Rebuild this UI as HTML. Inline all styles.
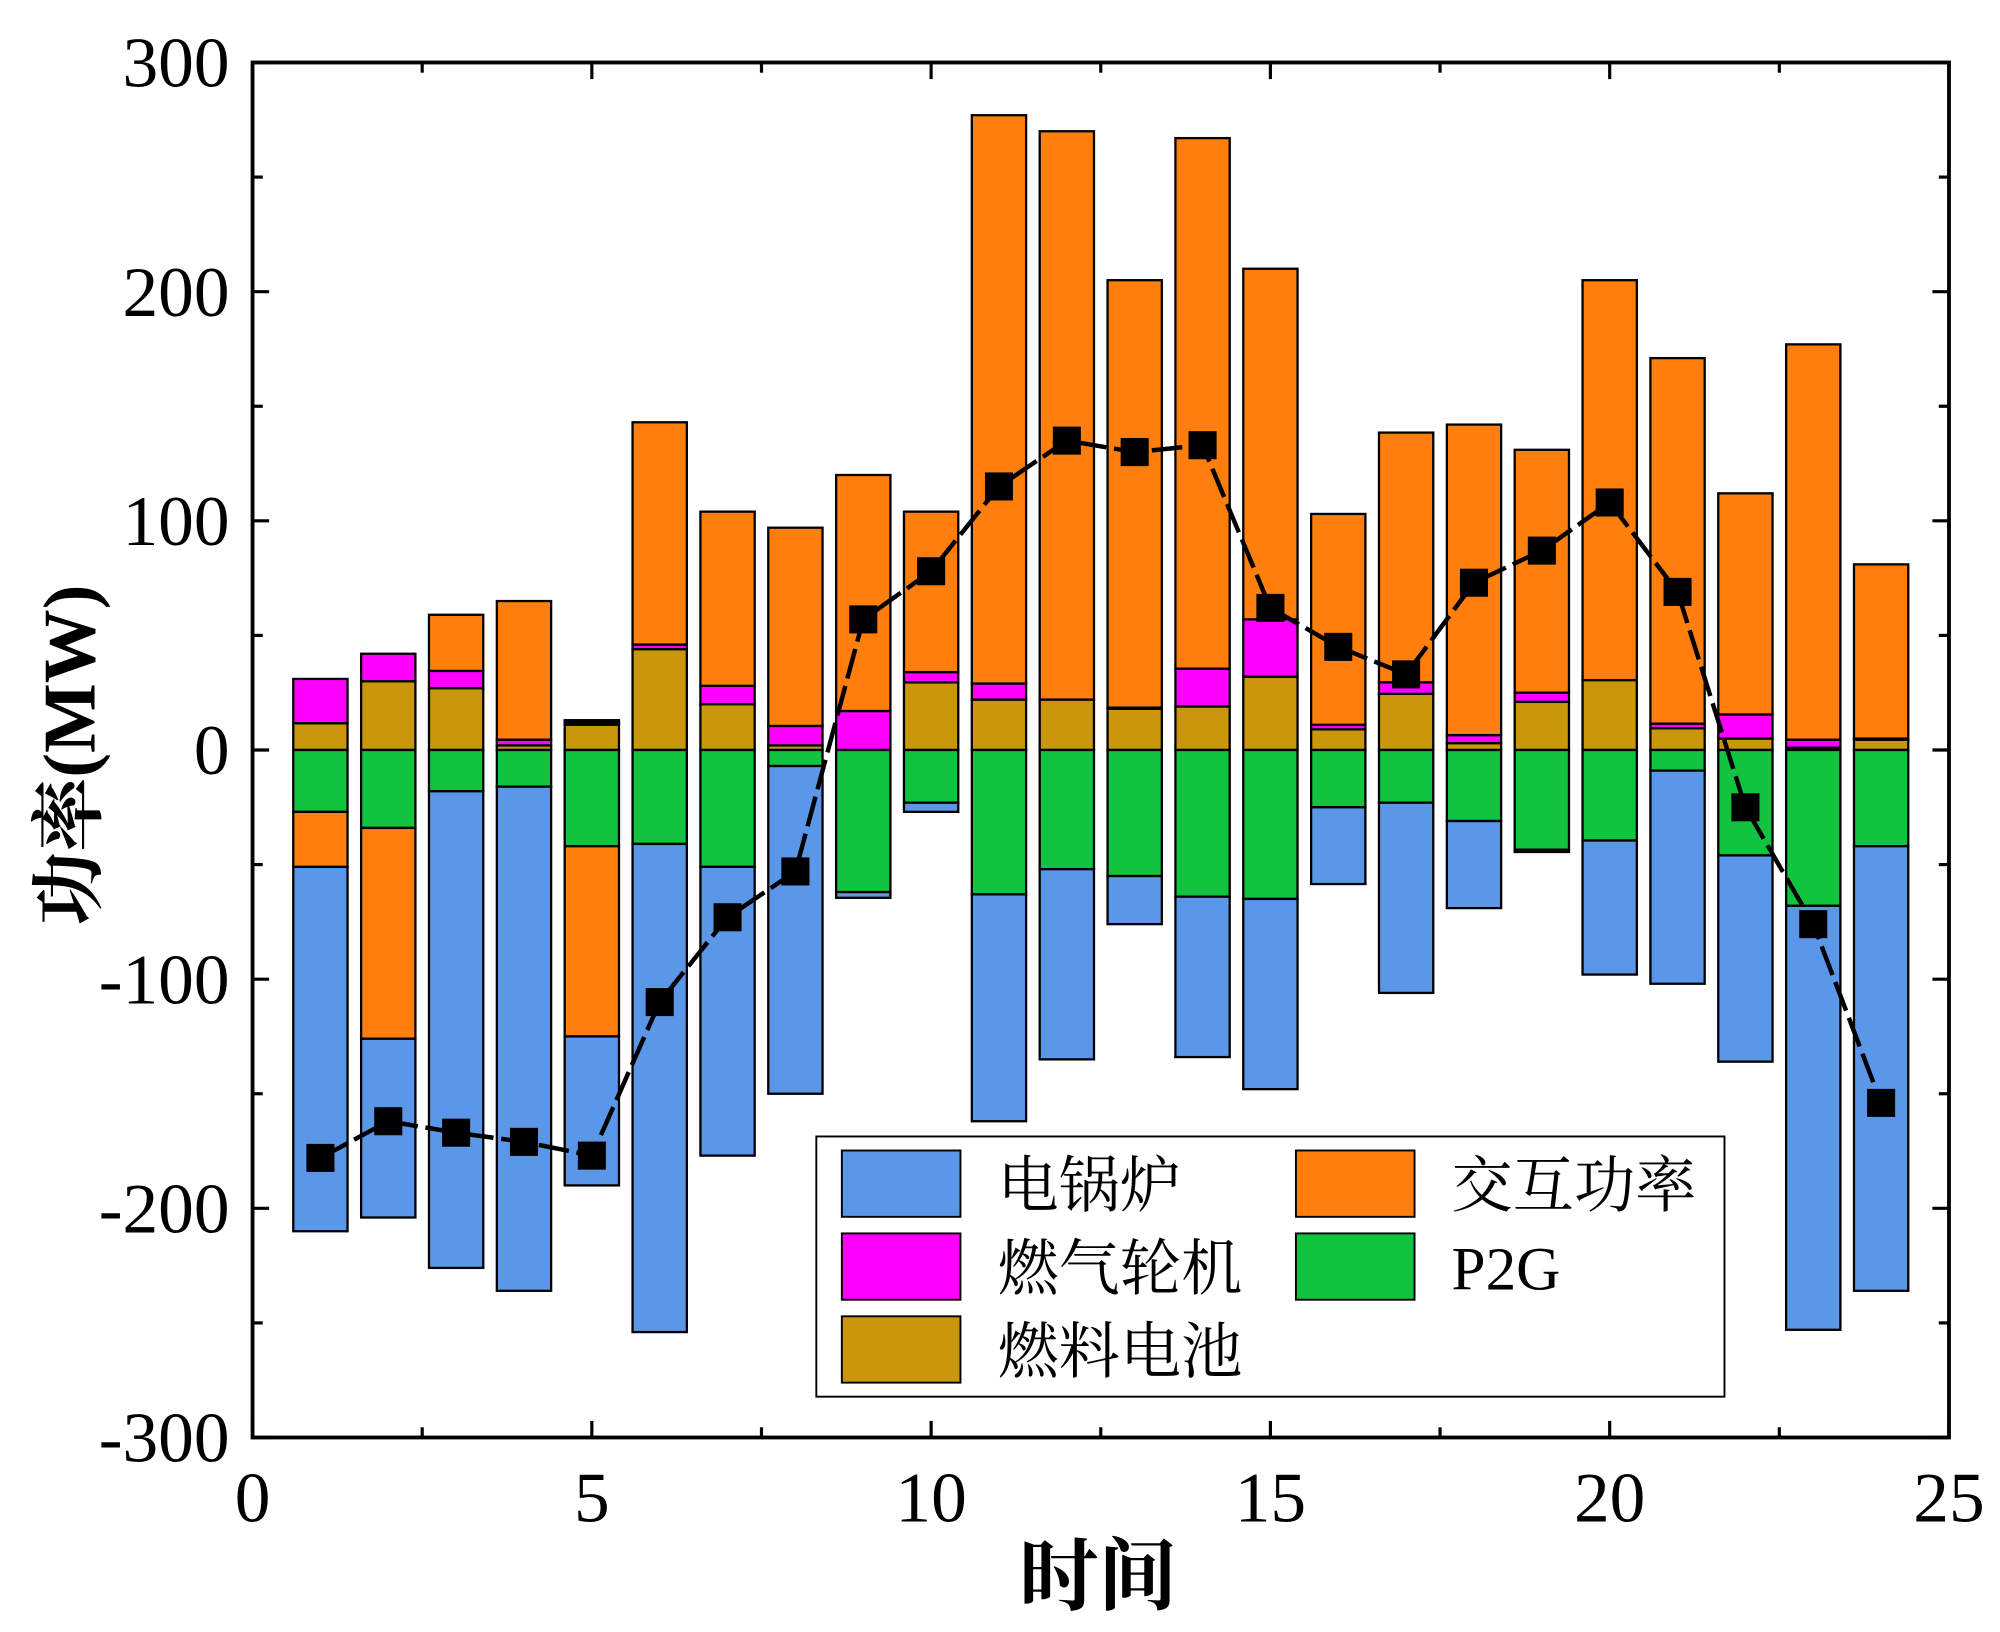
<!DOCTYPE html>
<html><head><meta charset="utf-8"><style>
html,body{margin:0;padding:0;background:#fff;}
svg{display:block;}
text{font-family:"Liberation Serif","Noto Serif CJK SC",serif;fill:#000;}
</style></head><body>
<svg id="chart" width="2000" height="1632" viewBox="0 0 1568 1279.5" preserveAspectRatio="none" xmlns="http://www.w3.org/2000/svg">
<g id="bars"></g>
<g id="line"></g>
<g id="axes"></g>
<g id="legend"></g>
</svg>
<script>
const hours=[1,2,3,4,5,6,7,8,9,10,11,12,13,14,15,16,17,18,19,20,21,22,23,24];
const fuelCell=[11.7,30,27,2,11,44,20,2,0,29.5,22,22,18,19,32,9,24.5,3,21,30.5,9.5,5,1,4.5];
const gasTurbine=[19.3,12,7.5,2.5,1,2,8,8.5,17,4.5,7,0,0.5,16.5,25,2,5,3.5,4,0,2,10.5,3.5,0.5];
const exchangePos=[0,0,24.5,60.5,1,97,76,86.5,103,70,248,248,186.5,231.5,153,92,109,135.5,106,174.5,159.5,96.5,172.5,76];
const p2g=[-27,-34,-18,-16,-42,-41,-51,-7,-62,-23,-63,-52,-55,-64,-65,-25,-23,-31,-43.5,-39.5,-9,-46,-68,-42];
const exchangeNeg=[-24,-92,0,0,-83,0,0,0,0,0,0,0,0,0,0,0,0,0,0,0,0,0,0,0];
const boiler=[-159,-78,-208,-220,-65,-213,-126,-143,-2.5,-4,-99,-83,-21,-70,-83,-33.5,-83,-38,-1,-58.5,-93,-90,-185,-194];
const netPower=[-178,-162,-167,-171,-177,-110,-73,-53,57,78,115,135,130,133,62,45,33,73,87,108,69,-25,-76,-154];
const xTicks=[0,5,10,15,20,25];
const yTicks=[-300,-200,-100,0,100,200,300];
const legendItems=[["电锅炉","#5b97e8"],["交互功率","#ff7f0e"],["燃气轮机","#ff00ff"],["P2G","#12c33f"],["燃料电池","#c9960c"]];

const L=198,R=1528,T=49,B=1127,NS="http://www.w3.org/2000/svg";
const xs=v=>L+(v-0)/25*(R-L);
const ys=v=>B-(v+300)/600*(B-T);
function mk(tag,attrs,parent){const e=document.createElementNS(NS,tag);for(const k in attrs)e.setAttribute(k,attrs[k]);parent.appendChild(e);return e;}
const bars=document.getElementById('bars');
const bw=0.8;
function seg(h,a,b,color,name){
  if(Math.abs(b-a)<0.01)return;
  const r=mk('rect',{x:xs(h-bw/2),y:ys(Math.max(a,b)),width:xs(bw)-xs(0),height:Math.abs(ys(a)-ys(b)),fill:color,stroke:'#000','stroke-width':1.8},bars);
  
  
}
hours.forEach((h,i)=>{
  let p=0;
  seg(h,p,p+fuelCell[i],'#c9960c','fuel-cell-bar');p+=fuelCell[i];
  seg(h,p,p+gasTurbine[i],'#ff00ff','gas-turbine-bar');p+=gasTurbine[i];
  seg(h,p,p+exchangePos[i],'#ff7f0e','exchange-bar');
  let n=0;
  seg(h,n,n+p2g[i],'#12c33f','p2g-bar');n+=p2g[i];
  seg(h,n,n+exchangeNeg[i],'#ff7f0e','exchange-bar');n+=exchangeNeg[i];
  seg(h,n,n+boiler[i],'#5b97e8','boiler-bar');
});
const lg=document.getElementById('line');
const pl=mk('polyline',{points:hours.map((h,i)=>xs(h)+','+ys(netPower[i])).join(' '),fill:'none',stroke:'#000','stroke-width':3.5,'stroke-dasharray':'24 6'},lg);


hours.forEach((h,i)=>{
  const m=mk('rect',{x:xs(h)-11,y:ys(netPower[i])-11,width:22,height:22,fill:'#000'},lg);
  
  
});
const ax=document.getElementById('axes');
const fr=mk('rect',{x:L,y:T,width:R-L,height:B-T,fill:'none',stroke:'#000','stroke-width':3},ax);


for(let v=0;v<=25;v+=2.5){
  const len=(v%5===0)?13:8;
  mk('line',{x1:xs(v),x2:xs(v),y1:B,y2:B-len,stroke:'#000','stroke-width':2.5},ax);
  mk('line',{x1:xs(v),x2:xs(v),y1:T,y2:T+len,stroke:'#000','stroke-width':2.5},ax);
}
for(let v=-300;v<=300;v+=50){
  const len=(v%100===0)?13:8;
  mk('line',{x1:L,x2:L+len,y1:ys(v),y2:ys(v),stroke:'#000','stroke-width':2.5},ax);
  mk('line',{x1:R,x2:R-len,y1:ys(v),y2:ys(v),stroke:'#000','stroke-width':2.5},ax);
}
xTicks.forEach(v=>{
  const t=mk('text',{x:xs(v),y:B+66,'text-anchor':'middle','font-size':56},ax);t.textContent=v;
  
  
});
yTicks.forEach(v=>{
  const t=mk('text',{x:L-18,y:ys(v)+19,'text-anchor':'end','font-size':56},ax);t.textContent=v;
  
  
});
const xt=mk('text',{x:(L+R)/2-2,y:1257,'text-anchor':'middle','font-size':62,'font-weight':'bold'},ax);xt.textContent='时间';


const yt=mk('text',{x:0,y:0,'text-anchor':'middle','font-size':58,'font-weight':'bold',transform:'translate(74,592) rotate(-90)'},ax);yt.textContent='功率(MW)';


const lgd=document.getElementById('legend');
const lb=mk('rect',{x:640,y:891,width:712,height:204,fill:'#fff',stroke:'#000','stroke-width':1.5},lgd);


const pos=[[660,902],[1016,902],[660,967],[1016,967],[660,1032]];
legendItems.forEach((it,i)=>{
  const [x,y]=pos[i];
  const g=mk('g',{},lgd);
  
  
  mk('rect',{x:x,y:y,width:93,height:52,fill:it[1],stroke:'#000','stroke-width':1.5},g);
  const t=mk('text',{x:x+122,y:y+44,'font-size':48},g);t.textContent=it[0];
});
</script>
</body></html>
